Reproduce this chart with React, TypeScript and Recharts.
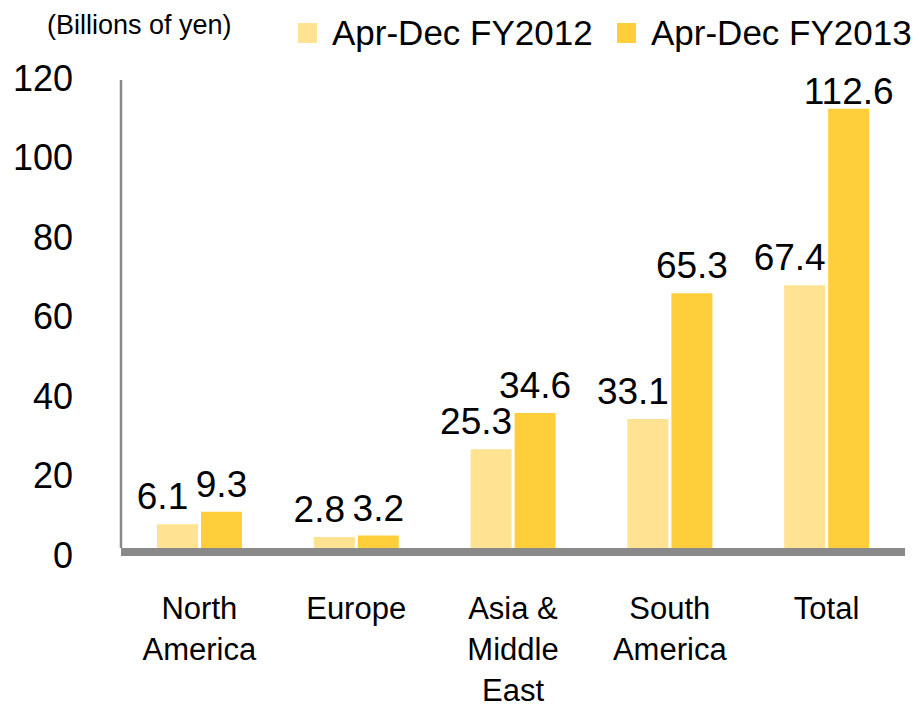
import React from 'react';
import { BarChart, Bar, XAxis, YAxis, Legend, LabelList } from 'recharts';

const categories = ['North\nAmerica', 'Europe', 'Asia &\nMiddle\nEast', 'South\nAmerica', 'Total'];
const fy2012 = [6.1, 2.8, 25.3, 33.1, 67.4];
const fy2013 = [9.3, 3.2, 34.6, 65.3, 112.6];
const yTicks = [0, 20, 40, 60, 80, 100, 120];
const seriesNames = ['Apr-Dec FY2012', 'Apr-Dec FY2013'];
const unitLabel = '(Billions of yen)';

const FONT = '"Liberation Sans", Arial, sans-serif';
const LIGHT = '#FFE392';
const DARK = '#FFCF3B';
const GRAY = '#898989';

const data = categories.map((c, i) => ({ name: c, a: fy2012[i], b: fy2013[i] }));

const LegendContent = (props: any) => {
  const payload = props.payload || [];
  return (
    <div style={{ position: 'relative', width: 912, height: 50, fontFamily: FONT, color: '#000' }}>
      <span style={{ position: 'absolute', left: 39, top: 2, fontSize: 27, lineHeight: '30px', whiteSpace: 'nowrap' }}>
        {unitLabel}
      </span>
      {payload.map((p: any, i: number) => (
        <div
          key={i}
          style={{ position: 'absolute', left: 290 + i * 319, top: 0, height: 50, display: 'flex', alignItems: 'center', whiteSpace: 'nowrap' }}
        >
          <span style={{ width: 19, height: 20, background: p.color, display: 'inline-block', marginRight: 15 }} />
          <span style={{ fontSize: 35, lineHeight: '50px' }}>{p.value}</span>
        </div>
      ))}
    </div>
  );
};

const YTick = (props: any) => {
  const { x, y, payload } = props;
  const v = Number(payload.value);
  return (
    <text x={x} y={y} dy={7 - v * 0.075} textAnchor="end" dominantBaseline="central" fontSize={36} fontFamily={FONT} fill="#000">
      {payload.value}
    </text>
  );
};

const XTick = (props: any) => {
  const { x, y, payload } = props;
  const lines = String(payload.value).split('\n');
  return (
    <text x={x} y={y} textAnchor="middle" fontSize={31} fontFamily={FONT} fill="#000">
      {lines.map((l, i) => (
        <tspan key={i} x={x} dy={i === 0 ? 71 : 41}>
          {l}
        </tspan>
      ))}
    </text>
  );
};

const makeLabel = (dx: number) => (props: any) => {
  const { x, y, width, value } = props;
  const baseline = Math.max(Number(y) - 15, 96);
  return (
    <text x={Number(x) + Number(width) / 2 + dx} y={baseline} textAnchor="middle" fontSize={37} fontFamily={FONT} fill="#000">
      {value}
    </text>
  );
};

export default function App() {
  return (
    <div style={{ width: 912, height: 702 }}>
      <BarChart
        width={912}
        height={702}
        data={data}
        margin={{ top: 72, right: 15, bottom: 0, left: 0 }}
        barCategoryGap={36}
        barGap={3}
      >
        <Legend
          verticalAlign="middle"
          layout="horizontal"
          content={<LegendContent />}
          wrapperStyle={{ top: 0, left: 0, width: 912, height: 50 }}
        />
        <XAxis
          dataKey="name"
          interval={0}
          tickLine={false}
          tickSize={0}
          tickMargin={0}
          height={162}
          axisLine={{ stroke: GRAY, strokeWidth: 8, transform: 'translate(0,4)' }}
          tick={<XTick />}
        />
        <YAxis
          domain={[0, 120]}
          ticks={yTicks}
          width={113}
          tickLine={false}
          tickSize={0}
          tickMargin={48}
          axisLine={{ stroke: GRAY, strokeWidth: 2.5 }}
          tick={<YTick />}
        />
        <Bar dataKey="a" name={seriesNames[0]} fill={LIGHT} isAnimationActive={false}>
          <LabelList dataKey="a" content={makeLabel(-15)} />
        </Bar>
        <Bar dataKey="b" name={seriesNames[1]} fill={DARK} isAnimationActive={false}>
          <LabelList dataKey="b" content={makeLabel(0)} />
        </Bar>
      </BarChart>
    </div>
  );
}
